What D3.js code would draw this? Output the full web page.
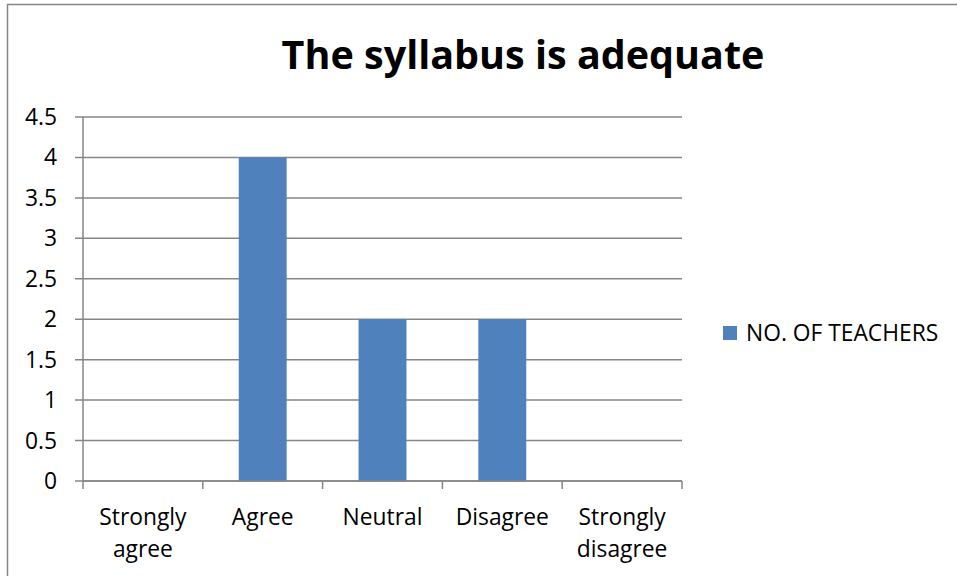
<!DOCTYPE html>
<html>
<head>
<meta charset="utf-8">
<script src="https://cdn.jsdelivr.net/npm/d3@7"></script>
<style>
  body { margin: 0; background: #fff; }
  text { font-family: "Open Sans", "Noto Sans", sans-serif; fill: #000; }
</style>
</head>
<body>
<div id="svganchor"></div>
<script>
// chart data
let categories = [["Strongly", "agree"], ["Agree"], ["Neutral"], ["Disagree"], ["Strongly", "disagree"]];
let teachers = [0, 4, 2, 2, 0];
let yTicks = [0, 0.5, 1, 1.5, 2, 2.5, 3, 3.5, 4, 4.5];
let seriesName = "NO. OF TEACHERS";
let title = "The syllabus is adequate";

let width = 957;
let height = 576;
let margin = { top: 117, right: 275, bottom: 95, left: 83 };
let labelSize = "22.8px";

let svg = d3.select("#svganchor").append("svg").attr("width", width).attr("height", height);

// outer chart border
svg.append("rect")
  .attr("x", 7.5).attr("y", 4.5)
  .attr("width", width + 20).attr("height", height + 20)
  .attr("fill", "none").attr("stroke", "#868686").attr("stroke-width", 1.5);

let keys = categories.map(function (d) { return d.join(" "); });

let xScale = d3.scaleBand().domain(keys).range([margin.left, width - margin.right]);
let yScale = d3.scaleLinear().domain([0, 4.5]).range([height - margin.bottom, margin.top]);

// gridlines
svg.selectAll(".grid")
  .data(yTicks)
  .enter()
  .append("line")
  .attr("class", "grid")
  .attr("x1", margin.left - 8)
  .attr("x2", width - margin.right)
  .attr("y1", function (d) { return yScale(d); })
  .attr("y2", function (d) { return yScale(d); })
  .attr("stroke", "#868686")
  .attr("stroke-width", 1.5);

// y tick labels
svg.selectAll(".ylab")
  .data(yTicks)
  .enter()
  .append("text")
  .attr("class", "ylab")
  .attr("x", margin.left - 26)
  .attr("y", function (d) { return yScale(d); })
  .attr("dy", "0.35em")
  .attr("text-anchor", "end")
  .style("font-size", labelSize)
  .text(function (d) { return d; });

// y axis line
svg.append("line")
  .attr("x1", margin.left).attr("x2", margin.left)
  .attr("y1", margin.top).attr("y2", height - margin.bottom)
  .attr("stroke", "#868686").attr("stroke-width", 1.5);

// bars
let barWidth = xScale.bandwidth() * 0.4;
svg.selectAll(".bar")
  .data(teachers)
  .enter()
  .append("rect")
  .attr("class", "bar")
  .attr("x", function (d, i) { return xScale(keys[i]) + (xScale.bandwidth() - barWidth) / 2; })
  .attr("y", function (d) { return yScale(d); })
  .attr("width", barWidth)
  .attr("height", function (d) { return yScale(0) - yScale(d); })
  .attr("fill", "#4F81BD");

// x axis line and ticks
let y0 = yScale(0);
svg.append("line")
  .attr("x1", margin.left).attr("x2", width - margin.right)
  .attr("y1", y0).attr("y2", y0)
  .attr("stroke", "#868686").attr("stroke-width", 1.5);

let tickPos = keys.map(function (k) { return xScale(k); }).concat([width - margin.right]);
svg.selectAll(".xtick")
  .data(tickPos)
  .enter()
  .append("line")
  .attr("class", "xtick")
  .attr("x1", function (d) { return d; })
  .attr("x2", function (d) { return d; })
  .attr("y1", y0)
  .attr("y2", y0 + 8)
  .attr("stroke", "#868686")
  .attr("stroke-width", 1.5);

// category labels
let catLabels = svg.selectAll(".xlab")
  .data(categories)
  .enter()
  .append("text")
  .attr("class", "xlab")
  .attr("text-anchor", "middle")
  .style("font-size", labelSize)
  .attr("transform", function (d, i) {
    return "translate(" + (xScale(keys[i]) + xScale.bandwidth() / 2) + "," + (y0 + 44) + ")";
  });

catLabels.selectAll("tspan")
  .data(function (d) { return d; })
  .enter()
  .append("tspan")
  .attr("x", 0)
  .attr("dy", function (d, i) { return i === 0 ? 0 : 32; })
  .text(function (d) { return d; });

// title
svg.append("text")
  .attr("x", 523)
  .attr("y", 69)
  .attr("text-anchor", "middle")
  .style("font-size", "39.5px")
  .style("font-weight", "bold")
  .text(title);

// legend
svg.append("rect")
  .attr("x", 723).attr("y", 326)
  .attr("width", 14).attr("height", 14)
  .attr("fill", "#4F81BD");

svg.append("text")
  .attr("x", 746)
  .attr("y", 333)
  .attr("dy", "0.35em")
  .style("font-size", labelSize)
  .text(seriesName);
</script>
</body>
</html>
